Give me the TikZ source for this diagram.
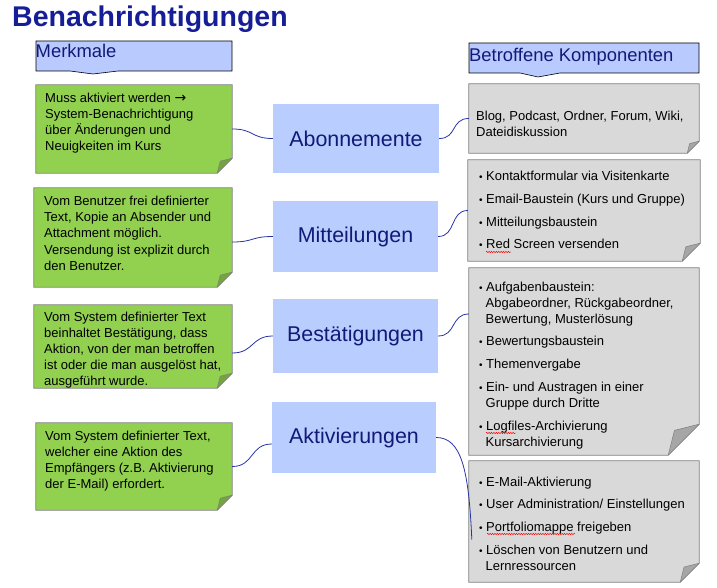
\documentclass[tikz,border=0pt]{standalone}
\usepackage{fontspec}
\setmainfont{Liberation Sans}
\newfontfamily\symfont{DejaVu Sans}
\usetikzlibrary{calc,decorations.pathmorphing}

\definecolor{titleblue}{RGB}{22,30,150}
\definecolor{navy}{RGB}{18,26,120}
\definecolor{hdrblue}{RGB}{185,202,255}
\definecolor{keyblue}{RGB}{185,205,255}
\definecolor{notegreen}{RGB}{146,208,80}
\definecolor{greenfold}{RGB}{116,164,62}
\definecolor{notegray}{RGB}{217,217,217}
\definecolor{grayfold}{RGB}{166,166,166}
\definecolor{edgegray}{RGB}{128,128,128}
\definecolor{linkblue}{RGB}{40,52,165}

% multi-line text block whose reference point is the first baseline
\newcommand\lines[1]{\parbox[t]{260pt}{\raggedright #1}}
\newcommand\itm{\makebox[7pt][l]{\fontsize{10}{10}\selectfont\textbullet}}
\newcommand\cont{\hspace*{6.5pt}}

% note with folded bottom-right corner: name, x1, y1, x2, y2, fold, fill, fold fill
\newcommand\notebox[8]{%
  \node[inner sep=0pt, minimum width={(#4-#2)*1pt}, minimum height={(#5-#3)*1pt}]
    (#1) at ({(#2+#4)/2},{(#3+#5)/2}) {};
  \filldraw[fill=#7, draw=edgegray, line width=0.7pt]
    (#1.north west) -- (#1.north east) -- ([yshift=#6pt]#1.south east)
    -- ([xshift=-#6pt]#1.south east) -- (#1.south west) -- cycle;
  \filldraw[fill=#8, draw=edgegray, line width=0.5pt, line join=round]
    ([xshift=-#6pt]#1.south east)
    .. controls ([shift={(-0.88*#6pt,0.4*#6pt)}]#1.south east)
    .. ([shift={(-0.8*#6pt,0.8*#6pt)}]#1.south east)
    -- ([yshift=#6pt]#1.south east) -- cycle;
}

\begin{document}
\begin{tikzpicture}[x=1pt,y=-1pt,
  body/.style={inner sep=0pt, anchor=base west, text=black,
    font=\fontsize{13}{16}\selectfont},
  key/.style={fill=keyblue, inner sep=0pt, text=navy,
    font=\fontsize{21.4}{25}\selectfont},
  header/.style={fill=hdrblue, draw=black, line width=0.6pt},
  headtext/.style={inner sep=0pt, anchor=base west, text=navy,
    font=\fontsize{18.4}{22}\selectfont},
  link/.style={draw=linkblue, line width=0.8pt},
  squiggle/.style={draw=red, line width=0.45pt, decorate,
    decoration={snake, amplitude=0.7pt, segment length=2.4pt}}]

\useasboundingbox (0,0) rectangle (717,588);

% title
\node[inner sep=0pt, anchor=base west, text=titleblue,
  font=\fontsize{28.5}{30}\selectfont\bfseries] (title) at (12,27) {Benachrichtigungen};

% column headers
\filldraw[header] (36,41) -- (232,41) -- (232,71) -- (118,71) -- (93,74) -- (70,71) -- (36,71) -- cycle;
\node[headtext] (hleft) at (35.5,58) {Merkmale};
\filldraw[header] (469,43) -- (699,43) -- (699,73) -- (560,73) -- (538,77) -- (520,73) -- (469,73) -- cycle;
\node[headtext] (hright) at (469,62) {Betroffene Komponenten};

% feature notes
\notebox{g1}{36}{85}{232}{173}{15}{notegreen}{greenfold}
\notebox{g2}{34}{188}{232}{287}{15}{notegreen}{greenfold}
\notebox{g3}{34}{305}{232}{388}{15}{notegreen}{greenfold}
\notebox{g4}{36}{423}{232}{510}{15}{notegreen}{greenfold}

\node[body] (g1t) at (45,103) {\lines{Muss aktiviert werden {\symfont\fontsize{14}{16}\selectfont →}\\
  System-Benachrichtigung\\über Änderungen und\\Neuigkeiten im Kurs}};
\node[body] (g2t) at (44,206) {\lines{Vom Benutzer frei definierter\\Text, Kopie an Absender und\\
  Attachment möglich.\\Versendung ist explizit durch\\den Benutzer.}};
\node[body] (g3t) at (44,321) {\lines{Vom System definierter Text\\beinhaltet Bestätigung, dass\\
  Aktion, von der man betroffen\\ist oder die man ausgelöst hat,\\ausgeführt wurde.}};
\node[body, font=\fontsize{13}{16.3}\selectfont] (g4t) at (45,440) {\lines{Vom System definierter Text,\\
  welcher eine Aktion des\\Empfängers (z.B. Aktivierung\\der E-Mail) erfordert.}};

% notification types
\node[key, minimum width=166pt, minimum height=69pt] (k1) at (356,138.5) {Abonnemente};
\node[key, minimum width=165pt, minimum height=71pt] (k2) at (355.5,236.5) {Mitteilungen};
\node[key, minimum width=165pt, minimum height=74pt] (k3) at (355.5,336) {Bestätigungen};
\node[key, minimum width=164pt, minimum height=71pt] (k4) at (354,437.5) {Aktivierungen};

% component notes
\notebox{n1}{469}{84}{699}{153}{12}{notegray}{grayfold}
\notebox{n2}{468}{160}{700}{261}{18}{notegray}{grayfold}
\notebox{n3}{469}{268}{699}{455}{31}{notegray}{grayfold}
\notebox{n4}{469}{461}{699}{582}{19}{notegray}{grayfold}

\node[body] (n1t) at (476,121) {\lines{Blog, Podcast, Ordner, Forum, Wiki,\\Dateidiskussion}};
\node[body] (n2t) at (479,181) {\lines{\itm Kontaktformular via Visitenkarte\\[7pt]
  \itm Email-Baustein (Kurs und Gruppe)\\[7pt]
  \itm Mitteilungsbaustein\\[6pt]
  \itm Red Screen versenden}};
\node[body] (n3t) at (479,291) {\lines{\itm Aufgabenbaustein:\\
  \cont Abgabeordner, Rückgabeordner,\\
  \cont Bewertung, Musterlösung\\[6.5pt]
  \itm Bewertungsbaustein\\[7pt]
  \itm Themenvergabe\\[7pt]
  \itm Ein- und Austragen in einer\\
  \cont Gruppe durch Dritte\\[7pt]
  \itm Logfiles-Archivierung\\
  \cont Kursarchivierung}};
\node[body] (n4t) at (479,486) {\lines{\itm E-Mail-Aktivierung\\[6.5pt]
  \itm User Administration/ Einstellungen\\[7pt]
  \itm Portfoliomappe freigeben\\[7pt]
  \itm Löschen von Benutzern und\\
  \cont Lernressourcen}};

% spell-check marks
\draw[squiggle] (486,252) -- (511,252);
\draw[squiggle] (486,433) -- (516,433);
\draw[squiggle] (487,534) -- (575,534);

% connectors: features to types
\draw[link] (g1.east) .. controls +(22,0) and +(-22,0) .. (k1.west);
\draw[link] ([yshift=-4.5pt]g2.east) .. controls +(22,0) and +(-22,0) .. (k2.west);
\draw[link] ([yshift=-6.5pt]g3.east) .. controls +(22,0) and +(-22,0) .. (k3.west);
\draw[link] (g4.east) .. controls +(22,0) and +(-22,0) .. ([yshift=-6.5pt]k4.west);

% connectors: types to components
\draw[link] (k1.east) .. controls +(18,0) and +(-18,0) .. (n1.west);
\draw[link] (k2.east) .. controls +(18,0) and +(-18,0) .. (n2.west);
\draw[link] (k3.east) .. controls +(18,0) and +(-18,0) .. ([yshift=47.5pt]n3.west);
\draw[link] (k4.east) .. controls +(25,0) and +(-3,-70) .. ([shift={(3pt,-18pt)}]n4.west);

\end{tikzpicture}
\end{document}
